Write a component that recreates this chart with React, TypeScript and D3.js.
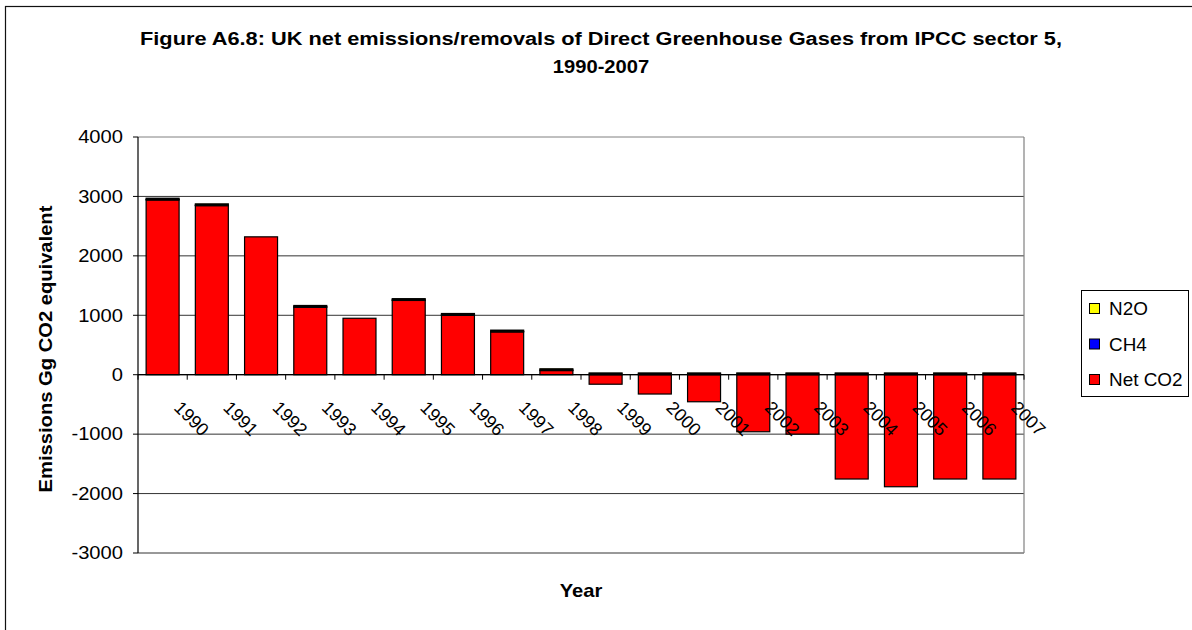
import React from "react";
import * as d3 from "d3";

// Emissions/removals by gas, Gg CO2 equivalent
const years = [
  "1990", "1991", "1992", "1993", "1994", "1995", "1996", "1997", "1998",
  "1999", "2000", "2001", "2002", "2003", "2004", "2005", "2006", "2007",
];
const netCO2 = [
  2940, 2845, 2320, 1135, 950, 1250, 1000, 720, 70,
  -160, -325, -455, -960, -1000, -1755, -1885, -1755, -1755,
];
const ch4 = [10, 10, 0, 10, 0, 10, 10, 10, 10, 10, 10, 10, 10, 10, 10, 10, 10, 10];
const n2o = [20, 20, 0, 20, 0, 20, 20, 20, 20, 20, 20, 20, 20, 20, 20, 20, 20, 20];

const yTicks = [4000, 3000, 2000, 1000, 0, -1000, -2000, -3000];

const seriesKeys = ["Net CO2", "CH4", "N2O"];
const seriesColors: Record<string, string> = {
  "Net CO2": "#ff0000",
  CH4: "#0000ff",
  N2O: "#ffff00",
};
const legendOrder = ["N2O", "CH4", "Net CO2"];

const W = 1192;
const H = 630;
const plot = { left: 138, right: 1024, top: 137, bottom: 553 };
const FONT = "'Liberation Sans', Arial, Helvetica, sans-serif";
const SX = 1.12; // horizontal stretch of the chart's lettering

// Text stretched horizontally about its anchor point
function WideText(props: {
  x: number;
  y: number;
  sx?: number;
  rotate?: number;
  anchor?: string;
  size?: number;
  bold?: boolean;
  dy?: string;
  children: React.ReactNode;
}) {
  const { x, y, sx = SX, rotate = 0, anchor = "start", size = 18, bold, dy, children } = props;
  return (
    <text
      x={0}
      y={0}
      dy={dy}
      transform={`translate(${x} ${y}) rotate(${rotate}) scale(${sx} 1)`}
      textAnchor={anchor}
      fontSize={size}
      fontWeight={bold ? "bold" : "normal"}
    >
      {children}
    </text>
  );
}

export default function App() {
  const rows = years.map((yr, i) => ({
    year: yr,
    "Net CO2": netCO2[i],
    CH4: ch4[i],
    N2O: n2o[i],
  }));

  const stacked = d3
    .stack<any>()
    .keys(seriesKeys)
    .offset(d3.stackOffsetDiverging)(rows);

  const x = d3
    .scaleBand<string>()
    .domain(years)
    .range([plot.left, plot.right])
    .paddingInner(0.33)
    .paddingOuter(0.165);

  const y = d3
    .scaleLinear()
    .domain([-3000, 4000])
    .range([plot.bottom, plot.top]);

  const zeroY = y(0);

  return (
    <svg
      width={W}
      height={H}
      style={{ position: "absolute", left: 0, top: 0, background: "#fff" }}
      fontFamily={FONT}
    >
      {/* chart area frame */}
      <rect x={5.5} y={6.5} width={1300} height={800} fill="#fff" stroke="#111" strokeWidth={1.2} />

      {/* title */}
      <text
        x={601}
        y={45}
        textAnchor="middle"
        fontSize={18}
        fontWeight="bold"
        textLength={922}
        lengthAdjust="spacingAndGlyphs"
      >
        Figure A6.8: UK net emissions/removals of Direct Greenhouse Gases from IPCC sector 5,
      </text>
      <WideText x={601} y={73} anchor="middle" bold>
        1990-2007
      </WideText>

      {/* gridlines */}
      {yTicks.map((t) => (
        <line
          key={"g" + t}
          x1={plot.left}
          x2={plot.right}
          y1={y(t)}
          y2={y(t)}
          stroke={t === 4000 ? "#808080" : "#333"}
          strokeWidth={1}
        />
      ))}
      {/* right edge of plot */}
      <line x1={plot.right} x2={plot.right} y1={plot.top} y2={plot.bottom} stroke="#808080" strokeWidth={1.2} />

      {/* bars */}
      {stacked.map((s) => (
        <g key={s.key}>
          {s.map((d, i) => {
            const y0 = y(d[0]);
            const y1 = y(d[1]);
            const h = Math.abs(y0 - y1);
            if (h === 0) return null;
            return (
              <rect
                key={years[i]}
                x={x(years[i])}
                y={Math.min(y0, y1)}
                width={x.bandwidth()}
                height={h}
                fill={seriesColors[s.key]}
                stroke="#000"
                strokeWidth={1.2}
              />
            );
          })}
        </g>
      ))}

      {/* value axis */}
      <line x1={plot.left} x2={plot.left} y1={plot.top} y2={plot.bottom} stroke="#000" strokeWidth={1.2} />
      {yTicks.map((t) => (
        <g key={"t" + t}>
          <line x1={plot.left - 5} x2={plot.left} y1={y(t)} y2={y(t)} stroke="#000" strokeWidth={1} />
          <WideText x={123} y={y(t)} dy="0.35em" anchor="end">
            {t}
          </WideText>
        </g>
      ))}

      {/* category axis on zero */}
      <line x1={plot.left} x2={plot.right} y1={zeroY} y2={zeroY} stroke="#000" strokeWidth={1.2} />
      {d3.range(years.length + 1).map((i) => {
        const tx = plot.left + (plot.right - plot.left) * (i / years.length);
        return <line key={"c" + i} x1={tx} x2={tx} y1={zeroY} y2={zeroY + 5} stroke="#000" strokeWidth={1} />;
      })}
      {years.map((yr) => {
        const cx = (x(yr) as number) + x.bandwidth() / 2;
        return (
          <WideText key={"l" + yr} x={cx + 10.5} y={zeroY + 34} rotate={45} sx={1}>
            {yr}
          </WideText>
        );
      })}

      {/* axis titles */}
      <WideText x={52} y={(plot.top + plot.bottom) / 2 + 4} rotate={-90} anchor="middle" bold>
        Emissions Gg CO2 equivalent
      </WideText>
      <WideText x={(plot.left + plot.right) / 2} y={597} anchor="middle" bold>
        Year
      </WideText>

      {/* legend */}
      <rect x={1081.5} y={290.5} width={107} height={106} fill="#fff" stroke="#000" strokeWidth={1} />
      {legendOrder.map((k, i) => {
        const cy = 309 + i * 35.5;
        return (
          <g key={"lg" + k}>
            <rect x={1089.5} y={cy - 5.5} width={10} height={10} fill={seriesColors[k]} stroke="#000" strokeWidth={1} />
            <WideText x={1109} y={cy} dy="0.36em" sx={1.05}>
              {k}
            </WideText>
          </g>
        );
      })}
    </svg>
  );
}
